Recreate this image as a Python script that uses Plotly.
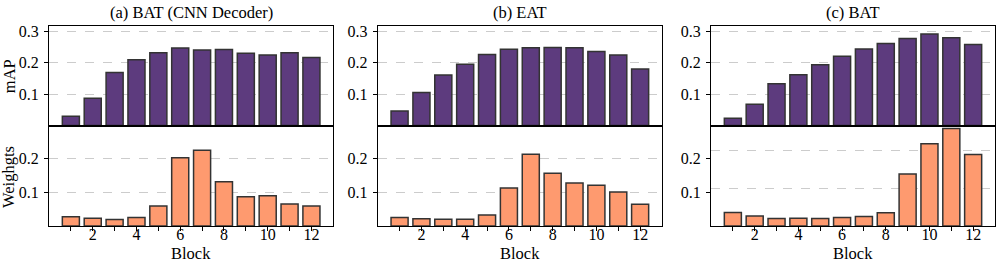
import plotly.graph_objects as go

blocks = list(range(1, 13))
x_tick_labels = ["" if b % 2 else str(b) for b in blocks]
y_tick_vals = [0.1, 0.2, 0.3]

panel_titles = ["(a) BAT (CNN Decoder)", "(b) EAT", "(c) BAT"]

map_a = [0.030, 0.087, 0.169, 0.210, 0.232, 0.247, 0.241, 0.242, 0.230, 0.225, 0.232, 0.217]
map_b = [0.046, 0.105, 0.161, 0.195, 0.226, 0.243, 0.248, 0.249, 0.248, 0.236, 0.225, 0.180]
map_c = [0.023, 0.068, 0.133, 0.162, 0.194, 0.221, 0.244, 0.261, 0.277, 0.292, 0.280, 0.258]

w_a = [0.027, 0.023, 0.019, 0.025, 0.059, 0.202, 0.224, 0.131, 0.086, 0.089, 0.065, 0.059]
w_b = [0.025, 0.021, 0.020, 0.020, 0.032, 0.112, 0.212, 0.156, 0.127, 0.120, 0.100, 0.064]
w_c = [0.040, 0.029, 0.022, 0.023, 0.022, 0.025, 0.028, 0.039, 0.154, 0.243, 0.288, 0.211]

map_series = [map_a, map_b, map_c]
w_series = [w_a, w_b, w_c]

W, H = 996, 260
PURPLE = "#5d3b7e"
ORANGE = "#fe9a6f"
EDGE = "#333333"
GRID = "#cccccc"
FONT = "Liberation Serif"

# pixel layout
x_px = [(49, 333.3), (377.7, 662), (711, 995)]
y_top_px = (23, 124)
y_bot_px = (124, 225.5)

def px_x(a, b):
    return [a / W, b / W]

def px_y(top, bottom):
    return [(H - bottom) / H, (H - top) / H]

fig = go.Figure()

for i in range(3):
    xt = f"x{2*i+1}" if 2*i+1 > 1 else "x"
    yt = f"y{2*i+1}" if 2*i+1 > 1 else "y"
    xb = f"x{2*i+2}"
    yb = f"y{2*i+2}"
    fig.add_trace(go.Bar(x=blocks, y=map_series[i], width=0.78,
                         marker=dict(color=PURPLE, line=dict(color=EDGE, width=1.5)),
                         xaxis=xt, yaxis=yt, showlegend=False))
    fig.add_trace(go.Bar(x=blocks, y=w_series[i], width=0.78,
                         marker=dict(color=ORANGE, line=dict(color=EDGE, width=1.5)),
                         xaxis=xb, yaxis=yb, showlegend=False))

# helper (empty) trace for the offset grid of panel (c) bottom
fig.add_trace(go.Scatter(x=[None], y=[None], xaxis="x6", yaxis="y7", showlegend=False,
                         hoverinfo="skip"))

axis_common = dict(showline=True, linecolor="black", linewidth=1.2, mirror=True,
                   zeroline=False, tickfont=dict(family=FONT, size=16, color="black"))

layout = dict(
    width=W, height=H,
    margin=dict(l=0, r=0, t=0, b=0),
    paper_bgcolor="white", plot_bgcolor="rgba(0,0,0,0)",
    bargap=0.2,
    font=dict(family=FONT, size=16, color="black"),
)

for i in range(3):
    nt = 2*i + 1
    nb = 2*i + 2
    kxt = "xaxis" if nt == 1 else f"xaxis{nt}"
    kyt = "yaxis" if nt == 1 else f"yaxis{nt}"
    kxb = f"xaxis{nb}"
    kyb = f"yaxis{nb}"
    xdom = px_x(*x_px[i])
    layout[kxt] = dict(domain=xdom, range=[0, 13], anchor=("y" if nt == 1 else f"y{nt}"),
                       showticklabels=False, ticks="", showgrid=False, **axis_common)
    layout[kyt] = dict(domain=px_y(*y_top_px), range=[0, 0.318], anchor=("x" if nt == 1 else f"x{nt}"),
                       tickvals=y_tick_vals, ticktext=["0.1", "0.2", "0.3"], ticks="outside",
                       ticklen=4, tickwidth=1.2, tickcolor="black", ticklabelstandoff=2,
                       showgrid=True, gridcolor=GRID, griddash="dash", gridwidth=1, **axis_common)
    layout[kxb] = dict(domain=xdom, range=[0, 13], anchor=f"y{nb}",
                       tickvals=blocks, ticktext=x_tick_labels, ticks="outside",
                       ticklen=4, tickwidth=1.2, tickcolor="black", showgrid=False,
                       ticklabelstandoff=-10,
                       **axis_common)
    layout[kyb] = dict(domain=px_y(*y_bot_px), range=[0, 0.297], anchor=f"x{nb}",
                       tickvals=[0.1, 0.2], ticktext=["0.1", "0.2"], ticks="outside",
                       ticklen=4, tickwidth=1.2, tickcolor="black", ticklabelstandoff=2,
                       showgrid=(i < 2), gridcolor=GRID, griddash="dash", gridwidth=1,
                       **axis_common)

layout["yaxis7"] = dict(overlaying="y6", range=[0, 0.2675], anchor="x6",
                        tickvals=[0.1, 0.2], showticklabels=False, ticks="",
                        showline=False, zeroline=False,
                        showgrid=True, gridcolor=GRID, griddash="dash", gridwidth=1)

annotations = []
for i in range(3):
    cx = (x_px[i][0] + x_px[i][1]) / 2 / W
    annotations.append(dict(text=panel_titles[i], x=cx, y=1 - 9.5 / H, xref="paper", yref="paper",
                            xanchor="center", yanchor="middle", showarrow=False,
                            font=dict(family=FONT, size=16.5, color="black")))
    annotations.append(dict(text="Block", x=cx, y=(H - 253) / H, xref="paper", yref="paper",
                            xanchor="center", yanchor="middle", showarrow=False,
                            font=dict(family=FONT, size=16.5, color="black")))
annotations.append(dict(text="mAP", x=9 / W, y=(H - 74) / H, xref="paper", yref="paper",
                        xanchor="center", yanchor="middle", showarrow=False, textangle=-90,
                        font=dict(family=FONT, size=16.5, color="black")))
annotations.append(dict(text="Weighgts", x=9 / W, y=(H - 176) / H, xref="paper", yref="paper",
                        xanchor="center", yanchor="middle", showarrow=False, textangle=-90,
                        font=dict(family=FONT, size=16.5, color="black")))
layout["annotations"] = annotations

fig.update_layout(**layout)
fig.write_html("out.html",
               config={"displayModeBar": False},
               post_script="document.body.style.margin='0';document.body.style.overflow='hidden';")
